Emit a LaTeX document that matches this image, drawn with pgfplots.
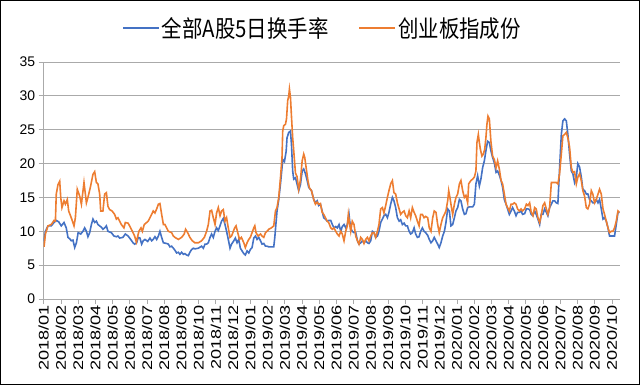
\documentclass[border=0pt]{standalone}
\usepackage{fontspec}
\setmainfont{Liberation Sans}
\newfontfamily\cjk{Noto Sans CJK SC}
\usepackage{graphicx}
\usepackage{pgfplots}
\pgfplotsset{compat=1.18}
\definecolor{sblue}{HTML}{4472C4}
\definecolor{sorange}{HTML}{ED7D31}
\definecolor{gridc}{HTML}{AAAAAA}
\newcommand{\xl}[1]{\scalebox{1.3}[1]{#1}}
\newcommand{\legtxt}[1]{\scalebox{1}[1.15]{#1}}
\begin{document}
\begin{tikzpicture}
\useasboundingbox (-43.7bp,-86bp) rectangle (596.3bp,299bp);
\draw[line width=1.5bp] (-42.95bp,-85.25bp) rectangle (595.55bp,298.25bp);
\begin{axis}[
  at={(0,0)}, anchor=south west,
  scale only axis, width=576bp, height=237bp,
  xmin=0, xmax=33.45, ymin=0, ymax=35,
  axis x line=bottom, axis y line=left,
  axis line style={-, gridc, line width=0.8bp},
  ytick={0,5,...,35},
  ymajorgrids, grid style={gridc, line width=0.8bp},
  xtick={0,...,33},
  xticklabels={\xl{2018/01},\xl{2018/02},\xl{2018/03},\xl{2018/04},\xl{2018/05},\xl{2018/06},\xl{2018/07},\xl{2018/08},\xl{2018/09},\xl{2018/10},\xl{2018/11},\xl{2018/12},
    \xl{2019/01},\xl{2019/02},\xl{2019/03},\xl{2019/04},\xl{2019/05},\xl{2019/06},\xl{2019/07},\xl{2019/08},\xl{2019/09},\xl{2019/10},\xl{2019/11},\xl{2019/12},
    \xl{2020/01},\xl{2020/02},\xl{2020/03},\xl{2020/04},\xl{2020/05},\xl{2020/06},\xl{2020/07},\xl{2020/08},\xl{2020/09},\xl{2020/10}},
  tick align=outside, major tick length=5bp,
  tick style={gridc, line width=0.8bp},
  xticklabel style={rotate=90, anchor=east, font=\fontsize{14}{14}\selectfont, inner sep=1bp},
  yticklabel style={font=\fontsize{14}{14}\selectfont},
  /pgf/number format/assume math mode=true,
  legend columns=2,
  legend style={at={(0.484,1.1435)}, anchor=center, draw=none, fill=none,
    font=\cjk\fontsize{20.5}{20.5}\selectfont,
    /tikz/every even column/.append style={column sep=28bp}},
  legend image code/.code={\draw[#1] (0bp,0bp) -- (36bp,0bp);},
]
\addplot[sblue, line width=1.6bp] coordinates {
(0.02,8.5)(0.10,10.0)(0.25,10.8)(0.44,10.8)(0.60,11.3)(0.73,11.6)(0.87,11.4)(1.02,10.8)(1.18,11.3)(1.31,10.5)(1.41,9.1)(1.51,8.9)(1.60,8.6)(1.70,8.7)(1.80,7.6)(1.90,8.3)(2.00,9.8)(2.15,9.6)(2.28,10.0)(2.38,10.5)(2.48,10.0)(2.57,9.2)(2.67,9.8)(2.77,11.0)(2.86,11.8)(2.96,11.3)(3.06,11.5)(3.15,11.0)(3.35,10.6)(3.44,10.3)(3.54,10.5)(3.64,10.8)(3.73,10.0)(3.93,9.8)(4.08,9.3)(4.22,9.2)(4.31,9.3)(4.41,9.0)(4.60,9.1)(4.74,9.6)(4.90,9.3)(5.05,8.8)(5.19,8.3)(5.28,8.1)
(5.40,8.3)(5.49,9.1)(5.59,9.0)(5.69,8.1)(5.78,8.6)(5.88,8.8)(6.04,8.5)(6.17,9.0)(6.27,8.6)(6.36,8.8)(6.46,9.2)(6.56,8.8)(6.66,9.3)(6.75,10.0)(6.85,9.1)(6.95,8.3)(7.14,8.2)(7.24,8.1)(7.33,7.7)(7.43,7.8)(7.53,7.5)(7.62,7.2)(7.72,6.8)(7.82,6.9)(7.91,6.6)(8.01,6.9)(8.11,6.6)(8.20,6.7)(8.30,6.5)(8.40,6.4)(8.49,6.9)(8.59,7.3)(8.69,7.5)(8.78,7.4)(8.98,7.5)(9.17,7.8)(9.27,7.5)(9.37,8.1)(9.46,8.1)(9.56,8.3)(9.66,9.1)(9.75,9.6)(9.85,9.1)(9.95,10.0)(10.04,10.5)(10.14,10.1)(10.24,10.8)(10.33,11.5)(10.43,11.9)(10.53,11.0)(10.62,10.0)(10.72,8.8)(10.82,7.5)(10.91,8.1)
(11.04,8.6)(11.13,9.0)(11.23,8.3)(11.33,8.8)(11.42,7.5)(11.52,7.1)(11.62,6.7)(11.71,6.5)(11.81,7.1)(11.91,6.8)(12.00,7.3)(12.10,7.6)(12.20,9.0)(12.30,9.3)(12.39,8.8)(12.49,9.1)(12.59,8.6)(12.68,8.1)(12.78,8.2)(12.88,7.8)(12.97,7.8)(13.07,7.7)(13.22,7.7)(13.36,7.7)(13.42,9.1)(13.50,11.5)(13.55,13.0)(13.65,14.7)(13.75,17.0)(13.84,19.4)(13.88,20.6)(13.98,20.3)(14.08,21.8)(14.13,23.8)(14.23,24.6)(14.33,24.8)(14.39,22.8)(14.46,18.9)(14.52,17.7)(14.62,17.9)(14.71,17.0)(14.81,16.0)(14.91,16.9)(15.01,18.9)(15.10,19.2)(15.20,18.5)(15.30,17.5)(15.39,16.5)(15.55,16.0)(15.68,14.7)(15.78,14.2)(15.88,14.5)(15.97,13.8)(16.07,14.0)(16.17,13.0)(16.26,12.0)(16.36,11.8)(16.46,11.5)(16.55,11.6)
(16.67,11.6)(16.76,11.0)(16.86,10.5)(16.96,10.7)(17.05,10.5)(17.15,11.0)(17.25,10.0)(17.34,10.7)(17.44,11.0)(17.54,10.5)(17.63,11.0)(17.73,12.5)(17.77,11.5)(17.83,10.5)(17.92,10.0)(18.02,9.8)(18.12,9.8)(18.22,8.6)(18.31,8.1)(18.41,8.3)(18.51,8.6)(18.60,8.3)(18.70,8.6)(18.80,8.3)(18.89,8.2)(18.99,8.6)(19.09,10.0)(19.18,9.8)(19.28,9.1)(19.38,9.3)(19.47,10.0)(19.57,11.3)(19.67,11.8)(19.76,12.3)(19.86,12.5)(19.96,12.0)(20.05,12.8)(20.15,14.0)(20.25,15.0)(20.34,14.5)(20.44,13.5)(20.54,12.0)(20.64,11.5)(20.73,11.7)(20.83,11.0)(20.93,11.2)(21.02,10.8)(21.12,10.8)(21.22,10.0)(21.31,9.6)(21.41,9.8)(21.51,10.5)(21.60,9.6)(21.70,9.1)(21.80,9.2)(21.89,10.0)(21.99,10.5)(22.09,10.0)(22.18,9.8)
(22.30,9.4)(22.39,8.8)(22.49,8.3)(22.59,8.6)(22.68,9.1)(22.78,8.6)(22.88,8.1)(22.97,7.6)(23.07,8.3)(23.17,9.3)(23.27,10.0)(23.36,11.3)(23.46,13.3)(23.56,13.0)(23.65,10.8)(23.75,11.0)(23.85,12.0)(23.94,13.0)(24.04,13.5)(24.14,14.7)(24.23,14.5)(24.33,13.3)(24.43,12.5)(24.52,12.6)(24.62,13.5)(24.71,13.6)(24.91,13.6)(25.01,14.0)(25.10,17.0)(25.20,18.2)(25.30,16.7)(25.39,17.7)(25.49,19.4)(25.59,20.4)(25.68,21.9)(25.78,23.3)(25.88,23.1)(25.97,21.9)(26.07,20.9)(26.17,20.1)(26.27,18.7)(26.36,18.9)(26.46,18.3)(26.56,17.5)(26.65,16.5)(26.75,14.7)(26.85,14.0)(26.94,13.3)(27.04,12.5)(27.14,13.0)(27.23,13.5)(27.33,13.0)(27.43,12.3)(27.52,12.8)(27.62,12.8)(27.72,13.0)(27.81,12.5)
(27.93,12.6)(28.03,13.3)(28.12,13.3)(28.22,13.2)(28.31,12.5)(28.41,12.3)(28.51,13.0)(28.60,12.5)(28.70,11.8)(28.80,11.0)(28.89,12.5)(28.99,12.5)(29.09,13.3)(29.19,12.8)(29.28,12.3)(29.38,13.5)(29.48,14.0)(29.57,14.5)(29.67,14.5)(29.77,14.2)(29.86,14.1)(29.96,19.4)(30.06,24.3)(30.15,26.3)(30.25,26.6)(30.35,26.3)(30.44,24.3)(30.54,21.4)(30.64,18.9)(30.73,18.5)(30.83,17.2)(30.93,18.0)(31.02,20.0)(31.12,19.5)(31.22,18.0)(31.31,16.2)(31.41,16.0)(31.51,15.5)(31.60,15.5)(31.70,14.7)(31.80,14.5)(31.89,14.2)(31.99,14.2)(32.09,14.7)(32.19,14.2)(32.28,14.7)(32.38,13.3)(32.48,11.8)(32.57,12.0)(32.67,11.5)(32.77,10.5)(32.86,9.3)(32.96,9.3)(33.06,9.3)(33.15,9.3)(33.25,11.0)(33.35,12.8)(33.44,12.8)
};
\addlegendentry{\legtxt{全部A股5日换手率}}
\addplot[sorange, line width=1.6bp] coordinates {
(0.02,7.7)(0.10,9.6)(0.25,10.8)(0.44,11.0)(0.60,11.6)(0.68,11.5)(0.73,15.5)(0.83,16.9)(0.93,17.4)(0.99,15.0)(1.06,13.5)(1.18,14.5)(1.26,14.0)(1.37,14.7)(1.45,13.0)(1.60,12.0)(1.76,10.8)(1.84,12.0)(1.95,16.2)(2.09,15.2)(2.19,14.0)(2.34,17.2)(2.48,14.2)(2.57,15.0)(2.71,16.5)(2.86,18.4)(2.96,18.8)(3.06,17.2)(3.15,17.0)(3.25,15.5)(3.31,13.0)(3.44,13.0)(3.54,15.5)(3.64,15.7)(3.73,13.7)(3.83,13.2)(3.97,13.0)(4.12,12.5)(4.22,11.8)(4.31,12.0)(4.51,11.0)(4.66,10.5)(4.74,11.3)(4.90,11.2)(4.99,10.8)(5.15,10.0)(5.28,9.3)
(5.38,8.4)(5.49,9.6)(5.53,10.0)(5.65,10.5)(5.73,10.0)(5.84,11.0)(5.98,11.3)(6.07,11.5)(6.17,12.0)(6.27,12.5)(6.36,13.0)(6.46,12.7)(6.56,13.3)(6.66,14.0)(6.75,14.1)(6.85,12.5)(6.95,11.0)(7.04,11.0)(7.14,10.5)(7.24,10.0)(7.43,9.8)(7.53,9.3)(7.62,9.1)(7.82,8.8)(8.01,9.1)(8.16,9.6)(8.24,10.3)(8.36,9.8)(8.49,9.1)(8.63,8.6)(8.78,8.3)(8.98,8.3)(9.17,8.6)(9.33,9.1)(9.46,10.0)(9.56,11.0)(9.66,13.0)(9.75,13.1)(9.85,12.0)(9.95,11.0)(10.04,12.7)(10.14,13.5)(10.24,12.3)(10.33,13.0)(10.43,13.2)(10.53,11.5)(10.62,12.0)(10.72,10.5)(10.82,9.1)(10.91,9.3)
(11.09,10.5)(11.17,10.8)(11.29,9.6)(11.37,8.8)(11.48,9.1)(11.62,8.3)(11.71,7.6)(11.81,8.3)(11.91,8.8)(12.00,9.1)(12.10,9.8)(12.20,10.5)(12.26,10.8)(12.33,9.8)(12.45,9.3)(12.59,9.6)(12.68,9.3)(12.78,9.1)(12.88,9.8)(12.97,10.0)(13.07,10.3)(13.22,10.5)(13.36,10.8)(13.46,13.0)(13.55,13.5)(13.65,15.0)(13.75,17.9)(13.84,20.9)(13.88,24.8)(13.94,25.6)(14.04,25.8)(14.10,26.6)(14.17,29.3)(14.23,30.0)(14.27,31.0)(14.33,29.8)(14.39,26.9)(14.46,23.8)(14.52,21.9)(14.62,18.6)(14.71,18.1)(14.81,16.2)(14.91,17.6)(15.01,20.4)(15.10,21.4)(15.16,20.9)(15.24,19.4)(15.35,17.4)(15.43,16.4)(15.55,16.0)(15.68,14.7)(15.78,14.0)(15.88,14.3)(15.97,14.0)(16.07,14.1)(16.17,12.8)(16.26,12.5)(16.36,12.0)(16.46,11.5)(16.55,11.3)
(16.67,10.5)(16.76,10.3)(16.86,10.5)(16.96,10.0)(17.05,9.6)(17.15,9.3)(17.25,10.0)(17.34,9.6)(17.44,8.6)(17.54,10.0)(17.63,10.8)(17.69,12.5)(17.77,11.0)(17.83,10.0)(17.92,11.5)(18.02,11.0)(18.12,9.3)(18.22,8.6)(18.31,8.1)(18.41,9.1)(18.51,8.8)(18.60,8.2)(18.70,8.8)(18.80,9.1)(18.89,8.6)(18.99,9.3)(19.09,9.8)(19.18,9.8)(19.28,9.1)(19.38,10.0)(19.47,11.0)(19.57,13.3)(19.67,13.5)(19.76,12.7)(19.86,13.8)(19.96,15.0)(20.05,16.0)(20.15,17.0)(20.25,17.5)(20.34,15.7)(20.44,15.5)(20.54,14.2)(20.64,13.3)(20.73,12.5)(20.83,12.8)(20.93,13.0)(21.02,12.3)(21.12,12.0)(21.22,13.0)(21.31,12.0)(21.41,13.5)(21.51,12.8)(21.60,12.3)(21.70,11.5)(21.80,10.8)(21.89,12.5)(21.99,12.5)(22.09,12.0)(22.18,12.2)
(22.30,12.0)(22.39,10.5)(22.49,10.0)(22.59,12.0)(22.68,13.0)(22.78,12.8)(22.88,11.0)(22.97,9.8)(23.07,11.0)(23.17,12.0)(23.27,12.5)(23.36,13.0)(23.46,14.5)(23.52,16.0)(23.59,15.0)(23.65,14.0)(23.75,12.5)(23.85,14.0)(23.94,15.0)(24.04,15.5)(24.14,17.0)(24.23,17.5)(24.33,16.0)(24.43,15.0)(24.52,15.3)(24.62,14.2)(24.68,17.0)(24.81,17.5)(24.91,17.7)(25.01,18.0)(25.10,18.9)(25.16,23.1)(25.24,24.3)(25.30,23.1)(25.36,22.1)(25.45,21.1)(25.53,21.4)(25.61,22.1)(25.68,23.8)(25.74,25.8)(25.80,27.0)(25.88,26.6)(25.97,23.3)(26.07,21.1)(26.17,20.6)(26.27,19.4)(26.36,20.4)(26.46,19.2)(26.56,17.5)(26.65,17.0)(26.75,15.5)(26.85,14.0)(26.94,13.5)(27.04,13.0)(27.14,14.0)(27.23,14.0)(27.33,14.2)(27.43,14.0)(27.52,13.3)(27.62,13.0)(27.72,13.3)(27.81,13.0)
(27.93,13.3)(28.03,14.0)(28.12,13.8)(28.22,14.2)(28.31,12.8)(28.41,12.3)(28.51,13.5)(28.60,13.3)(28.70,12.0)(28.80,11.3)(28.89,12.3)(28.99,13.8)(29.09,14.2)(29.19,13.3)(29.28,12.5)(29.38,13.5)(29.48,17.2)(29.57,17.2)(29.77,17.2)(29.86,17.0)(29.96,18.5)(30.06,21.4)(30.15,24.1)(30.25,24.3)(30.35,24.6)(30.44,23.8)(30.54,22.4)(30.64,19.4)(30.73,18.7)(30.83,18.8)(30.93,17.0)(31.02,18.0)(31.12,18.5)(31.22,17.5)(31.31,16.0)(31.41,15.2)(31.51,13.5)(31.60,13.3)(31.70,14.0)(31.80,16.0)(31.89,15.5)(31.99,14.2)(32.09,14.7)(32.19,15.5)(32.28,16.2)(32.38,15.5)(32.48,13.3)(32.57,12.5)(32.67,11.5)(32.77,10.5)(32.86,9.8)(32.96,10.0)(33.06,10.0)(33.15,10.5)(33.25,11.5)(33.35,13.0)(33.44,12.8)
};
\addlegendentry{\legtxt{创业板指成份}}
\end{axis}
\end{tikzpicture}
\end{document}
